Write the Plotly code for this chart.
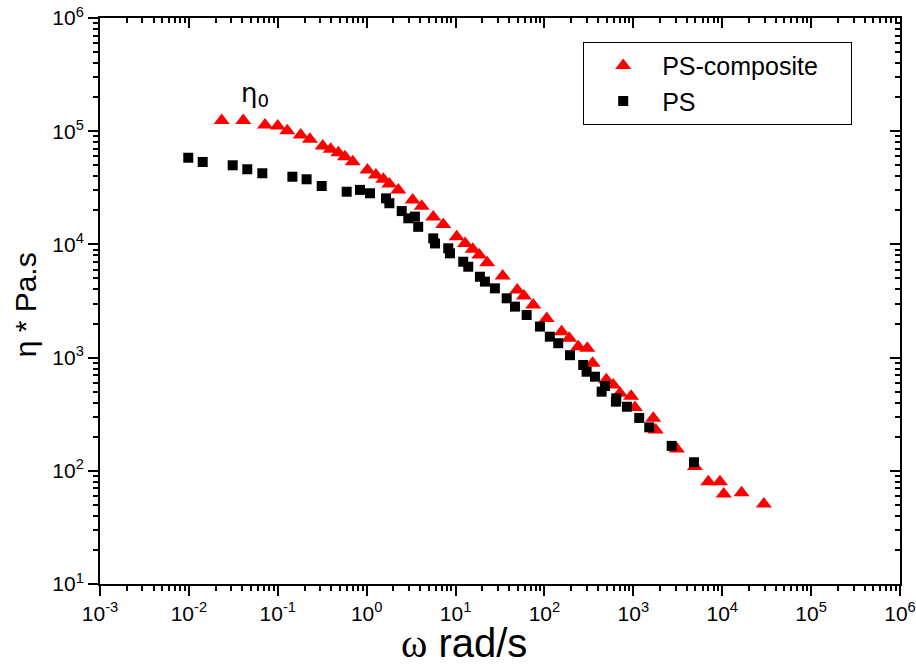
import plotly.graph_objects as go

# complex viscosity vs angular frequency
omega_composite = [0.0234, 0.0409, 0.0718, 0.0998, 0.128, 0.181, 0.230, 0.320, 0.394, 0.480,
                   0.570, 0.697, 1.02, 1.27, 1.54, 1.80, 2.27, 3.29, 4.16, 5.61,
                   7.27, 10.3, 12.8, 15.6, 18.5, 22.7, 33.9, 49.4, 58.8, 74.8,
                   106, 156, 190, 240, 303, 348, 496, 594, 707, 944,
                   1042, 1675, 1786, 3090, 4930, 6970, 9420, 10400, 16500, 29400]
eta_composite = [1.24e5, 1.24e5, 1.135e5, 1.11e5, 1.01e5, 9.25e4, 8.48e4, 7.40e4, 6.92e4, 6.46e4,
                 5.96e4, 5.38e4, 4.54e4, 4.10e4, 3.76e4, 3.42e4, 3.03e4, 2.47e4, 2.17e4, 1.75e4,
                 1.50e4, 1.17e4, 1.02e4, 9060, 8060, 6890, 5260, 3950, 3500, 2920,
                 2220, 1690, 1480, 1250, 1210, 891, 638, 573, 484, 455,
                 362, 291, 229, 156, 109, 80.1, 80.1, 62.4, 64.1, 50.9]

omega_ps = [0.00984, 0.0143, 0.0311, 0.0454, 0.0670, 0.146, 0.211, 0.312, 0.596, 0.841,
            1.09, 1.65, 1.80, 2.48, 2.94, 3.49, 3.80, 5.61, 5.87, 8.28,
            8.65, 12.2, 13.9, 18.8, 21.4, 27.7, 37.6, 46.6, 63.1, 89.0,
            115, 143, 194, 273, 298, 370, 480, 440, 643, 637,
            847, 1165, 1510, 2700, 4810]
eta_ps = [5.83e4, 5.35e4, 5.00e4, 4.61e4, 4.25e4, 3.96e4, 3.76e4, 3.28e4, 2.92e4, 3.03e4,
          2.83e4, 2.55e4, 2.31e4, 1.97e4, 1.70e4, 1.76e4, 1.43e4, 1.13e4, 1.02e4, 9240,
          8340, 7030, 6350, 5180, 4690, 4090, 3340, 2820, 2380, 1880,
          1530, 1340, 1050, 861, 750, 678, 561, 500, 437, 408,
          368, 293, 242, 166, 119]

x_exponents = [-3, -2, -1, 0, 1, 2, 3, 4, 5, 6]
y_exponents = [1, 2, 3, 4, 5, 6]

FONT = "Liberation Sans, Arial, sans-serif"

fig = go.Figure()

fig.add_trace(go.Scatter(
    x=omega_composite, y=eta_composite, mode="markers",
    name="PS-composite\u00a0\u00a0\u00a0\u00a0",
    marker=dict(symbol="triangle-up", size=14, color="#ff0000"),
))
fig.add_trace(go.Scatter(
    x=omega_ps, y=eta_ps, mode="markers", name="PS",
    marker=dict(symbol="square", size=10, color="#000000"),
))
# empty trace so the mirrored top/right axes get drawn
fig.add_trace(go.Scatter(x=[], y=[], xaxis="x2", yaxis="y2", showlegend=False, hoverinfo="skip"))

xticks = [10.0 ** e for e in x_exponents]
xtext = [f"10<sup>{e}</sup>" for e in x_exponents]
yticks = [10.0 ** e for e in y_exponents]
ytext = [f"10<sup>{e}</sup>" for e in y_exponents]
# minor ticks at 2..9 of every decade
xminor = [k * 10.0 ** e for e in x_exponents[:-1] for k in range(2, 10)]
yminor = [k * 10.0 ** e for e in y_exponents[:-1] for k in range(2, 10)]

common = dict(type="log", showline=True, linewidth=2, linecolor="black",
              showgrid=False, zeroline=False, tickwidth=2, tickcolor="black",
              ticklen=10, tickmode="array", automargin=False)


def minor(vals, side):
    return dict(tickmode="array", tickvals=vals, ticks=side, ticklen=5,
                tickwidth=2, tickcolor="black", showgrid=False)


fig.update_layout(
    width=916, height=664,
    margin=dict(l=100, r=16, t=18, b=80),
    paper_bgcolor="white", plot_bgcolor="white",
    font=dict(family=FONT, color="black"),
    showlegend=True,
    xaxis=dict(**common, range=[-3, 6], tickvals=xticks, ticktext=xtext, ticks="outside",
               tickfont=dict(size=21), ticklabeloverflow="allow",
               minor=minor(xminor, "outside")),
    yaxis=dict(**common, range=[1, 6], tickvals=yticks, ticktext=ytext, ticks="outside",
               tickfont=dict(size=21), ticklabeloverflow="allow",
               minor=minor(yminor, "outside")),
    xaxis2=dict(**common, range=[-3, 6], tickvals=xticks, overlaying="x", side="top",
                anchor="y2", ticks="inside", showticklabels=False,
                minor=minor(xminor, "inside")),
    yaxis2=dict(**common, range=[1, 6], tickvals=yticks, overlaying="y", side="right",
                anchor="x2", ticks="inside", showticklabels=False,
                minor=minor(yminor, "inside")),
    legend=dict(x=0.604, y=0.958, xanchor="left", yanchor="top",
                bordercolor="black", borderwidth=1, bgcolor="white",
                font=dict(size=25, family=FONT), itemwidth=68, tracegroupgap=4),
    annotations=[
        dict(text="<span style='font-family:Liberation Serif, Times New Roman, serif'>ω</span> rad/s",
             xref="paper", yref="paper", x=0.455, y=-0.106, xanchor="center", yanchor="middle",
             showarrow=False, font=dict(size=40)),
        dict(text="η * Pa.s", xref="paper", yref="paper", x=-0.092, y=0.493,
             xanchor="center", yanchor="middle", textangle=-90, showarrow=False,
             font=dict(size=30)),
        dict(text="η<sub>0</sub>", xref="x", yref="y", x=-1.256, y=5.32,
             showarrow=False, font=dict(size=26, family="DejaVu Sans")),
    ],
)

# drop the default 8px body margin so the figure sits at the window's corner
fig.write_html("out.html", config={"displayModeBar": False},
               post_script="document.body.style.margin = '0';")
